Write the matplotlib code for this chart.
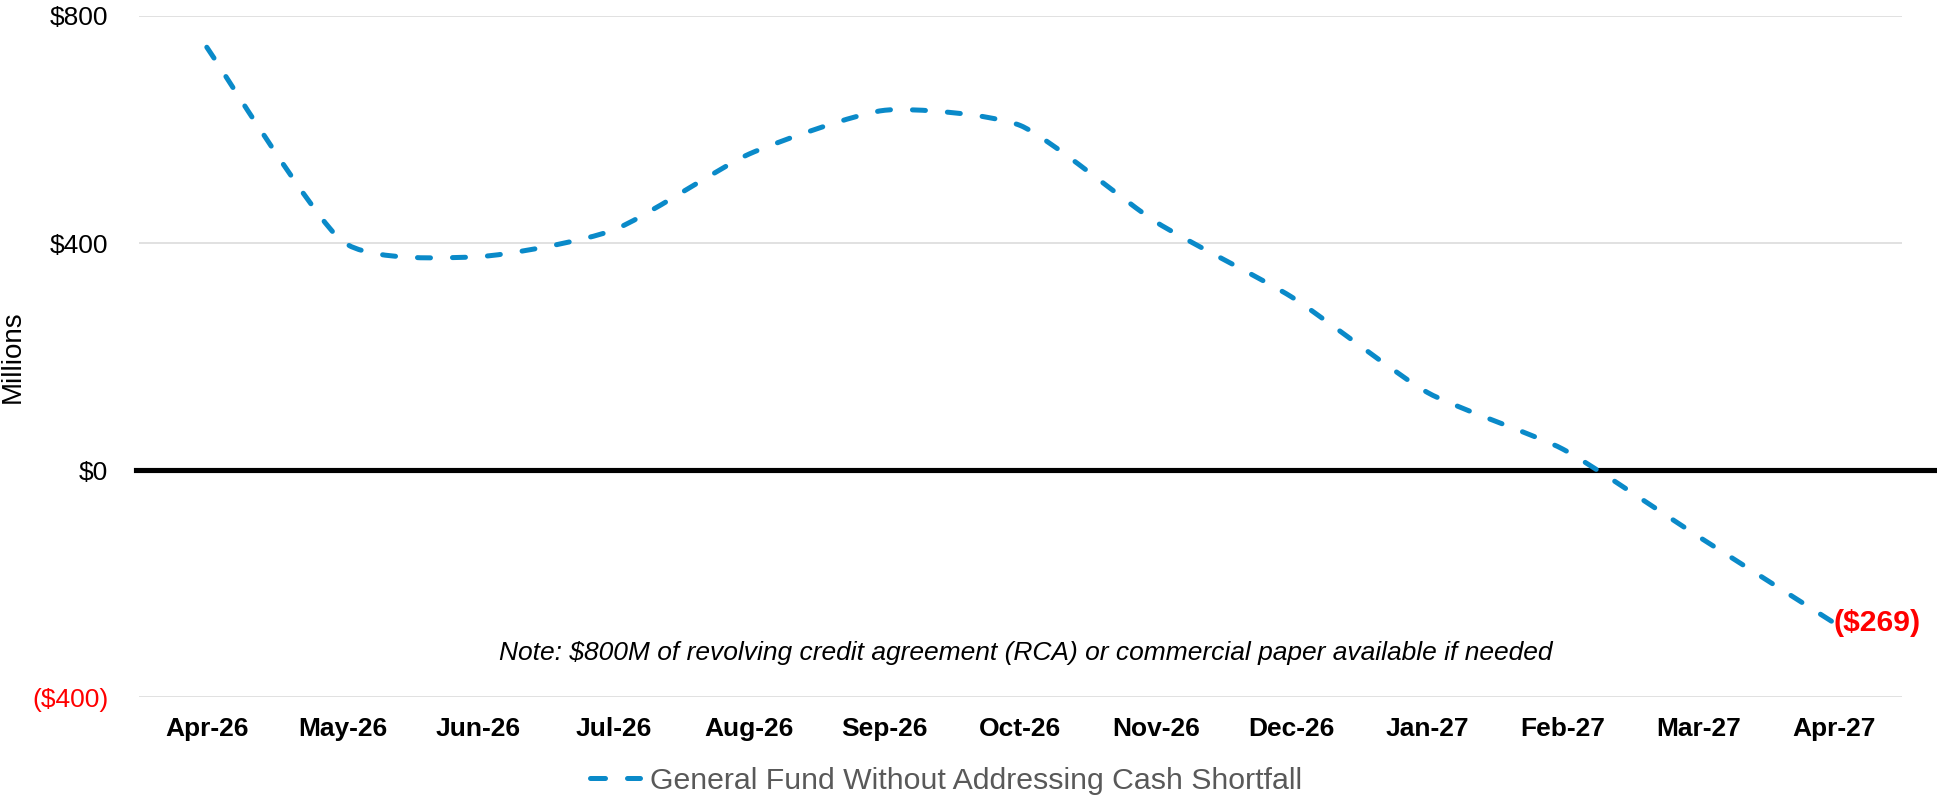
import matplotlib
matplotlib.use('Agg')
import matplotlib.pyplot as plt
from matplotlib.path import Path
from matplotlib.patches import PathPatch
from matplotlib.lines import Line2D
import numpy as np

# ---- data ----
months = ['Apr-26', 'May-26', 'Jun-26', 'Jul-26', 'Aug-26', 'Sep-26', 'Oct-26',
          'Nov-26', 'Dec-26', 'Jan-27', 'Feb-27', 'Mar-27', 'Apr-27']
balance = [745, 403, 376, 423, 557, 634, 607, 437, 305, 137, 37, -117, -269]
ytick_values = [-400, 0, 400, 800]
ytick_labels = ['($400)', '$0', '$400', '$800']
series_name = 'General Fund Without Addressing Cash Shortfall'
note_text = 'Note: $800M of revolving credit agreement (RCA) or commercial paper available if needed'
end_label = '($269)'

LINE_COLOR = '#0A8AC9'
W, H = 1937, 798
SMOOTH = 0.1

plt.rcParams['font.family'] = ['Liberation Sans', 'DejaVu Sans']

fig = plt.figure(figsize=(W / 100, H / 100), dpi=100)
ax_left, ax_right, ax_top, ax_bottom = 139, 1902, 16, 697.3
ax = fig.add_axes([ax_left / W, 1 - ax_bottom / H, (ax_right - ax_left) / W, (ax_bottom - ax_top) / H])

x = np.arange(len(months), dtype=float)
ax.set_xlim(-0.5, len(months) - 0.5)
ax.set_ylim(-400, 800)
ax.set_autoscale_on(False)

pts = np.column_stack([x, np.asarray(balance, dtype=float)])

# smoothed line (Bezier through the data points, like a spreadsheet "smoothed line")
n = len(pts)
verts = [pts[0]]
codes = [Path.MOVETO]
for i in range(n - 1):
    p0 = pts[max(i - 1, 0)]
    p1 = pts[i]
    p2 = pts[i + 1]
    p3 = pts[min(i + 2, n - 1)]
    c1 = p1 + (p2 - p0) * SMOOTH
    c2 = p2 - (p3 - p1) * SMOOTH
    verts += [c1, c2, p2]
    codes += [Path.CURVE4] * 3
curve = PathPatch(Path(verts, codes), fill=False, edgecolor=LINE_COLOR, lw=3.6,
                  linestyle=(0, (2.6, 4.4)), capstyle='round', joinstyle='round',
                  zorder=4, transform=ax.transData)
ax.add_patch(curve)

# zero line extending to the right edge
ax_w = ax_right - ax_left
ax.axhline(0, xmin=(136 - ax_left) / ax_w, xmax=(W - ax_left) / ax_w, color='black',
           lw=3.7, clip_on=False, zorder=3)

# grid
ax.set_yticks(ytick_values)
ax.set_yticklabels(ytick_labels)
ax.yaxis.grid(True, color='#D9D9D9', lw=1.1)
ax.set_axisbelow(True)
for s in ax.spines.values():
    s.set_visible(False)

ax.set_xticks(x)
ax.set_xticklabels(months, fontweight='bold')
ax.tick_params(axis='x', length=0, pad=14, labelsize=19)
ax.tick_params(axis='y', length=0, pad=22, labelsize=19)
for lbl, v in zip(ax.get_yticklabels(), ytick_values):
    lbl.set_color('red' if v < 0 else 'black')

# end label
ax.annotate(end_label, xy=(x[-1], balance[-1]), xytext=(-1, 0), textcoords='offset pixels',
            ha='left', va='center', color='red', fontweight='bold', fontsize=21.7,
            annotation_clip=False)

# y label
fig.text(13 / W, 1 - 357 / H, 'Millions', rotation=90, ha='center', va='center', fontsize=20)

# note
fig.text(1026 / W, 1 - 653 / H, note_text, style='italic', ha='center', va='center', fontsize=19)

# legend
handle = Line2D([], [], color=LINE_COLOR, lw=3.6, linestyle=(0, (3.0, 4.4)),
                dash_capstyle='round')
fig.legend(handles=[handle], labels=[series_name], loc='center',
           bbox_to_anchor=(946 / W, 1 - 781 / H), frameon=False, fontsize=21.8,
           handlelength=1.65, handletextpad=0.35, borderpad=0, borderaxespad=0,
           labelcolor='#595959')

fig.savefig('out.png', dpi=100)
